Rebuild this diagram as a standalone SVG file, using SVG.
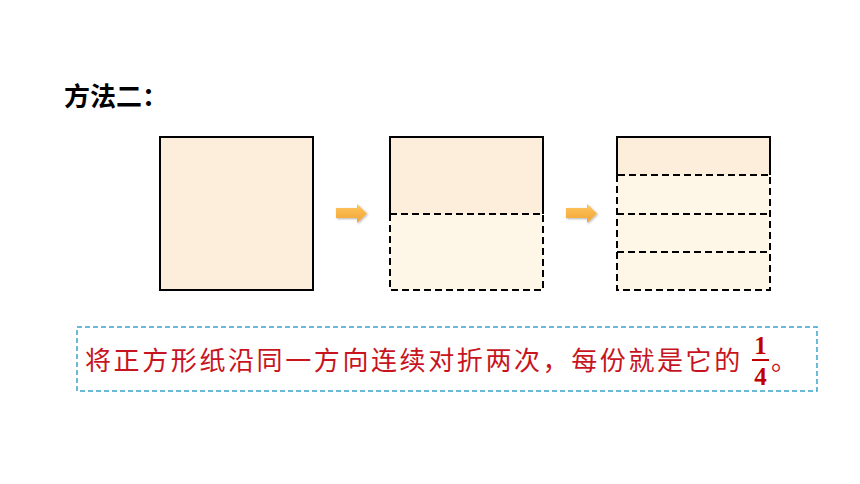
<svg xmlns="http://www.w3.org/2000/svg" width="860" height="484" viewBox="0 0 860 484">
<defs>
<linearGradient id="ag" x1="0" y1="0" x2="0" y2="1">
<stop offset="0" stop-color="#fdc55e"/>
<stop offset="1" stop-color="#f3a433"/>
</linearGradient>
<filter id="sh" x="-30%" y="-30%" width="160%" height="160%">
<feDropShadow dx="1" dy="1" stdDeviation="1" flood-color="#000" flood-opacity="0.3"/>
</filter>
</defs>
<style>
.solid{stroke:#000;stroke-width:2;fill:none}
.dash{stroke:#000;stroke-width:2;fill:none;stroke-dasharray:7 4}
.top{fill:#fdeedb}
.low{fill:#fef6e7}
.title{font-family:"Liberation Sans","Noto Sans CJK SC",sans-serif;font-weight:bold;font-size:26px;fill:#000}
.txt{font-family:"Noto Sans CJK SC",sans-serif;font-size:26px;fill:#c8141e;letter-spacing:2.6px}
.frac{font-family:"Liberation Serif",serif;font-weight:bold;font-size:25px;fill:#c00000}
.arrow{fill:url(#ag);filter:url(#sh)}
</style>
<rect width="860" height="484" fill="#fff"/>
<text class="title" x="64" y="106">方法二：</text>

<g id="square1">
<rect x="160" y="137" width="153" height="153" class="top"/>
<rect x="160" y="137" width="153" height="153" class="solid"/>
</g>

<g id="square2">
<rect x="390" y="137" width="153" height="77" class="top"/>
<rect x="390" y="214" width="153" height="76" class="low"/>
<path d="M390 214 V137 H543 V214" class="solid"/>
<path d="M390 214 V290 H543 V214 H390" class="dash"/>
</g>

<g id="square3">
<rect x="617" y="137" width="153" height="38" class="top"/>
<rect x="617" y="175" width="153" height="115" class="low"/>
<path d="M617 175 V137 H770 V175" class="solid"/>
<path d="M617 175 V290 H770 V175 H617 M617 214 H770 M617 252 H770" class="dash"/>
</g>

<g id="connectors">
<path class="arrow" d="M336 208 H357 V204 L367 213.5 L357 223 V218 H336 Z"/>
<path class="arrow" d="M566 208 H587 V204 L597 213.5 L587 223 V218 H566 Z"/>
</g>

<g id="caption">
<rect x="77" y="327" width="740" height="64" fill="none" stroke="#3aa3c9" stroke-width="1.5" stroke-dasharray="5 3"/>
<text class="txt" x="85" y="370">将正方形纸沿同一方向连续对折两次，每份就是它的</text>
<text class="frac" x="760.5" y="354" text-anchor="middle">1</text>
<line x1="752" y1="360" x2="769" y2="360" stroke="#c00000" stroke-width="2"/>
<text class="frac" x="760.5" y="385" text-anchor="middle">4</text>
<text class="txt" x="771" y="370">。</text>
</g>
</svg>
